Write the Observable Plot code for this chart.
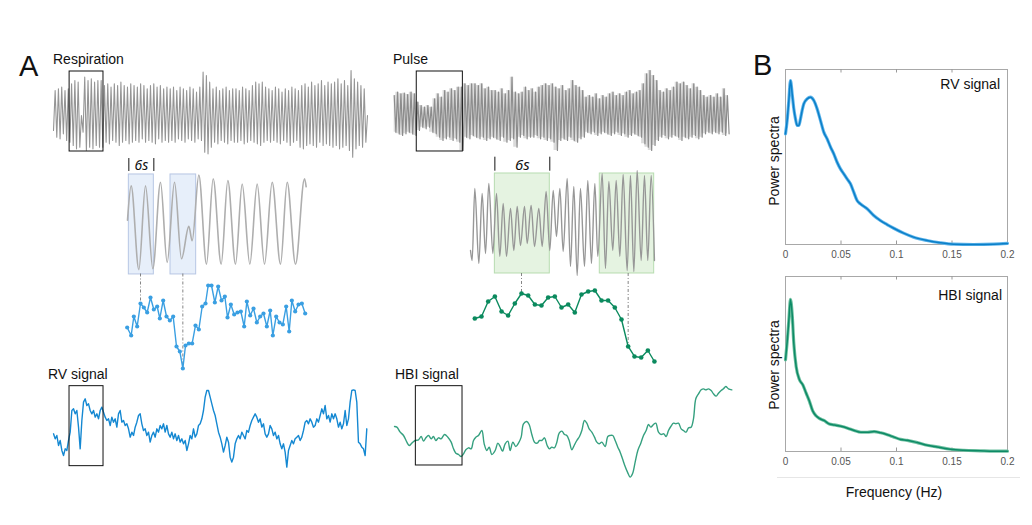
<!DOCTYPE html>
<html><head><meta charset="utf-8">
<script src="https://cdn.jsdelivr.net/npm/d3@7"></script>
<script src="https://cdn.jsdelivr.net/npm/@observablehq/plot@0.6"></script>
<style>
body{margin:0;background:#fff;}
#root{position:relative;width:1032px;height:525px;font-family:"Liberation Sans",Arial,Helvetica,sans-serif;color:#111;overflow:hidden;background:#fff;}
.lbl{position:absolute;line-height:1;white-space:nowrap;}
</style></head><body><div id="root"></div><script>
// ---------------- DATA ----------------
// Respiration raw trace: peak / trough of each breath
const respPeaks = [0.95,1.0,1.05,0.95,1.0,
 1.15,1.25,1.2,0.2,1.35,1.25,1.3,1.2,1.25,1.25,
 1.1,1.15,1.05,1.15,1.1,1.2,1.1,1.05,1.15,1.1,
 1.05,1.15,1.1,1.0,1.1,1.15,1.05,1.1,1.0,1.05,
 1.0,1.05,0.95,1.05,1.0,0.95,1.05,1.0,0.9,1.05,
 1.5,1.4,1.2,1.0,1.05,0.95,1.0,1.05,0.95,1.0,
 1.0,0.95,1.05,1.0,0.95,1.1,1.2,1.15,1.2,1.05,
 1.0,0.95,1.05,1.0,0.9,1.0,0.95,1.05,1.0,0.95,
 1.1,1.15,1.05,1.2,1.1,1.15,1.25,1.1,1.2,1.15,
 1.2,1.3,1.15,1.25,1.1,1.55,1.3,1.2,1.1,1.0];
const respTroughs = [-0.45,-0.5,-0.35,-0.55,-0.6,
 -0.7,-0.8,-0.75,-0.3,-0.85,-0.75,-0.8,-0.7,-0.75,-0.75,
 -0.6,-0.65,-0.55,-0.6,-0.7,-0.6,-0.55,-0.65,-0.6,-0.55,
 -0.6,-0.5,-0.6,-0.55,-0.6,-0.65,-0.5,-0.6,-0.55,-0.6,
 -0.55,-0.6,-0.5,-0.55,-0.6,-0.5,-0.55,-0.6,-0.5,-0.55,
 -0.9,-0.95,-0.75,-0.6,-0.65,-0.55,-0.6,-0.65,-0.55,-0.6,
 -0.6,-0.55,-0.65,-0.6,-0.55,-0.6,-0.65,-0.7,-0.6,-0.55,
 -0.6,-0.55,-0.6,-0.65,-0.55,-0.6,-0.7,-0.6,-0.55,-0.75,
 -0.8,-0.7,-0.65,-0.7,-0.75,-0.6,-0.7,-0.65,-0.7,-0.75,
 -0.7,-0.8,-0.75,-0.7,-0.85,-1.05,-0.8,-0.7,-0.75,-0.6];
const respStartEnd = [-0.25, 0.2];
const respRawWindow = [4.4, 14.7];

// Pulse raw trace: upper / lower excursion of each beat
const pulseUpper = [0.65,0.75,0.7,0.72,0.68,0.75,0.7,
 0.45,0.35,0.3,0.35,0.3,
 0.55,0.7,0.6,0.8,0.75,0.85,0.8,0.9,0.9,
 1.0,0.95,1.0,1.0,0.95,1.0,0.85,0.9,0.8,
 0.8,0.75,0.85,0.7,0.8,1.2,0.75,
 0.7,0.75,0.9,0.8,0.85,0.75,0.9,0.95,
 1.0,0.95,1.0,0.9,0.85,0.95,0.8,0.85,
 1.1,0.95,0.9,0.8,
 0.6,0.65,0.6,0.7,0.55,0.65,0.6,0.7,0.75,0.65,
 0.7,0.65,0.75,0.8,0.7,0.75,0.8,
 1.0,1.3,1.4,1.25,1.1,
 0.8,0.75,0.85,0.8,0.9,
 1.05,1.0,1.05,0.95,0.85,1.0,0.9,0.8,
 0.65,0.6,0.65,0.6,0.7,0.6,0.85,0.65];
const pulseLower = [-0.45,-0.5,-0.55,-0.5,-0.45,-0.5,-0.55,
 -0.4,-0.3,-0.35,-0.3,-0.45,
 -0.5,-0.6,-0.7,-0.65,-0.6,-0.7,-0.65,-0.75,-1.0,
 -0.6,-0.65,-0.55,-0.6,-0.65,-0.6,-0.7,-0.65,-0.6,
 -0.65,-0.7,-0.6,-0.75,-0.7,-0.65,-0.9,
 -0.6,-0.55,-0.65,-0.6,-0.6,-0.55,-0.65,-0.6,
 -0.7,-0.65,-0.75,-1.0,-0.7,-0.65,-0.7,-0.6,
 -0.7,-0.75,-0.65,-0.6,
 -0.45,-0.5,-0.45,-0.55,-0.5,-0.45,-0.5,-0.55,-0.5,-0.45,
 -0.55,-0.5,-0.6,-0.55,-0.5,-0.55,-0.6,
 -0.8,-0.9,-1.0,-0.85,-0.7,
 -0.6,-0.55,-0.65,-0.6,-0.55,
 -0.6,-0.7,-0.6,-0.65,-0.6,-0.55,-0.65,-0.6,
 -0.5,-0.45,-0.5,-0.45,-0.5,-0.45,-0.55,-0.5];
const pulseRawWindow = [6.7, 20.4];

// Zoomed respiration (extrema, time in s)
const respZoomT = [0,0.88,2.72,4.32,6.08,7.92,9.52,11.28,12.96,14.72,15.52,17.12,18.96,20.56,22.48,24.08,25.92,27.52,29.36,31.12,32.88,34.72,36.72,38.32,40.32,42.48,42.88];
const respZoomV = [0.56,0.94,0.01,0.94,0.02,0.98,0.09,0.98,0.13,0.49,0.33,1.06,0.07,1.02,0.07,1.0,0.07,0.96,0.07,0.96,0.07,0.98,0.07,0.98,0.07,1.02,0.93];
const respWindows = [[0.32,6.32],[10.32,16.48]];
// RV samples in the zoomed window
const rvSampleT = [-0.08,0.88,1.52,2.32,3.12,3.92,4.72,5.52,6.32,7.12,7.76,8.56,9.36,10.16,10.96,11.76,12.56,13.28,13.92,14.72,15.52,16.32,17.12,17.92,18.72,19.36,20.16,20.96,21.76,22.56,23.36,24.0,24.8,25.6,26.4,27.2,28.0,28.64,29.44,30.24,31.04,31.84,32.64,33.44,34.24,34.88,35.68,36.48,37.28,38.08,38.8,39.44,40.24,41.04,41.84,42.64];
const rvSampleV = [0.56,0.48,0.67,0.57,0.80,0.76,0.71,0.86,0.74,0.77,0.65,0.83,0.67,0.63,0.67,0.37,0.32,0.15,0.38,0.40,0.40,0.58,0.54,0.77,0.80,0.98,0.98,0.81,0.97,0.83,0.87,0.66,0.79,0.69,0.71,0.72,0.57,0.82,0.68,0.75,0.61,0.67,0.70,0.57,0.73,0.48,0.67,0.61,0.59,0.77,0.52,0.83,0.72,0.79,0.80,0.70];
const rvLinkIdx = [4, 17];

// Zoomed pulse (extrema, time in s)
const pulseZoomT = [0,0.18,0.47,0.91,1.27,1.64,2.0,2.44,2.84,3.2,3.57,3.93,4.37,4.73,5.1,5.46,5.9,6.19,6.62,6.99,7.46,7.83,8.26,8.66,9.03,9.39,9.76,10.12,10.56,10.92,11.28,11.65,12.01,12.45,12.81,13.21,13.58,13.9,14.38,14.74,15.11,15.54,15.91,16.31,16.67,17.11,17.47,17.84,18.2,18.64,19.0,19.36,19.73,20.09];
const pulseZoomV = [0.33,0.23,0.95,0.20,0.90,0.30,1.0,0.30,0.90,0.27,0.80,0.27,0.75,0.33,0.77,0.38,0.77,0.40,0.78,0.37,0.75,0.37,0.92,0.33,0.93,0.47,0.95,0.32,1.05,0.17,0.97,0.08,0.95,0.17,1.03,0.20,1.0,0.27,1.10,0.15,1.02,0.33,1.03,0.27,1.09,0.13,1.08,0.12,1.13,0.23,1.08,0.23,1.08,0.23];
const pulseWindows = [[2.66,8.66],[14.12,20.06]];
const hbiSampleT = [0.47,1.2,1.93,2.66,3.39,4.11,4.84,5.57,6.3,7.03,7.75,8.48,9.21,9.94,10.67,11.39,12.12,12.85,13.58,14.31,15.03,15.76,16.49,17.22,17.91,18.64,19.37,20.09];
const hbiSampleV = [0.65,0.67,0.82,0.87,0.72,0.68,0.80,0.90,0.88,0.79,0.78,0.86,0.87,0.76,0.79,0.71,0.89,0.92,0.93,0.83,0.83,0.76,0.64,0.37,0.27,0.26,0.33,0.22];
const hbiLinkIdx = [7, 23];

// RV signal (uniformly sampled)
const rvSignal = [0.8,0.65,0.75,0.45,0.6,0.3,0.15,0.35,0.3,0.6,0.85,1.5,1.55,1.4,1.5,1.0,0.35,1.2,1.75,1.85,
 1.65,1.7,1.5,1.4,1.5,1.3,1.4,1.25,1.5,1.6,1.45,1.3,1.2,1.25,1.05,1.3,1.15,1.25,1.0,1.4,
 1.5,1.15,1.2,1.05,1.1,0.95,0.7,0.85,0.75,1.0,1.15,1.35,1.4,1.1,0.9,0.95,0.75,0.85,0.55,0.75,
 0.85,0.7,0.95,0.85,1.05,0.95,1.1,0.85,1.05,0.8,0.7,0.85,0.65,0.8,0.6,0.75,0.55,0.65,0.5,0.6,
 0.3,0.5,0.75,0.65,0.95,0.7,0.8,1.05,1.1,1.25,1.5,1.9,2.1,2.1,1.9,1.7,1.5,1.35,1.1,0.85,
 0.7,0.5,0.25,0.45,0.7,0.55,0.1,-0.05,0.1,0.5,0.65,0.75,0.65,0.85,0.75,0.65,0.9,0.85,1.05,1.2,
 1.3,1.4,1.3,1.15,1.25,1.0,1.1,0.8,0.7,0.8,1.05,0.95,0.75,0.85,0.65,0.75,0.5,0.35,0.5,0.25,
 -0.2,0.3,0.45,0.6,0.5,0.65,0.7,0.75,0.6,0.7,0.9,1.15,1.2,1.1,1.25,1.15,1.0,1.05,1.25,1.15,
 1.35,1.55,1.4,1.65,1.25,1.35,1.15,1.4,1.25,1.4,1.25,1.0,1.15,0.95,1.1,1.5,1.05,1.25,1.75,2.1,
 2.12,2.1,1.75,0.55,0.5,0.4,0.35,0.15,0.95];
const rvWindow = [9.6, 30];

// HBI signal
const hbiTime = [28,35,45,55,65,72,80,90,100,108,115,122,130,138,145,152,160,168,178,188,
 198,205,212,220,228,235,242,250,258,265,272,280,290,297,305,312,320,330,338,345,
 352,360,368,375,383,392,400,408,415,425,432,440,448,456,463,470,478,486,493,500,
 508,515,522,530,538,545,552,560,567,575,583,590,598,605,612,620,628,635,642,650,
 660,668,675,683,690,698,705,712,720,727,735,742,750,758,767,775,783,790,797,805,
 812,820,828,836,843,850,857,865,872,880,888,895,903,910,918,925,932,940,948,955,
 962,970,978,985,993,1000,1008,1015,1022,1030,1040];
const hbiValue = [1.02,1.00,0.85,0.75,0.55,0.45,0.52,0.60,0.62,0.72,
 0.58,0.68,0.75,0.65,0.72,0.60,0.68,0.65,0.78,0.70,
 0.55,0.35,0.22,0.18,0.12,0.20,0.32,0.38,0.35,0.60,
 0.70,0.75,0.90,0.50,0.30,0.40,0.18,0.30,0.52,0.42,
 0.28,0.50,0.58,0.30,0.55,0.42,0.52,0.70,1.10,1.17,
 1.08,0.78,0.55,0.52,0.60,0.60,0.68,0.45,0.35,0.40,
 0.38,0.55,0.82,0.88,0.78,0.75,0.60,0.32,0.45,0.60,
 0.72,0.90,1.20,1.12,0.95,0.85,0.70,0.55,0.50,0.55,
 0.42,0.72,0.75,0.75,0.60,0.40,0.25,0.05,-0.18,-0.35,
 -0.50,-0.40,-0.05,0.30,0.52,0.75,0.90,1.08,1.00,1.08,
 1.12,0.85,0.78,0.80,0.72,0.90,1.02,1.12,1.10,1.12,
 0.95,0.90,0.85,0.98,1.00,1.25,1.85,2.00,2.12,2.15,
 2.12,2.15,2.10,2.00,1.93,2.02,2.10,2.15,2.22,2.15,2.12];
const hbiWindow = [92, 232];

// Power spectra (panel B)
const rvSpecFreq = [0,0.0015,0.003,0.0045,0.006,0.0075,0.009,0.0105,0.012,0.0135,0.015,0.0165,0.0195,0.0225,0.0255,0.0285,0.0315,0.0345,0.0375,0.0405,0.0435,0.0465,0.0495,0.0525,0.0555,0.0585,0.0615,0.0645,0.0675,0.0735,0.0795,0.0855,0.0915,0.0975,0.1064,0.1154,0.1274,0.1394,0.1514,0.1694,0.1874,0.2];
const rvSpecPower = [0.632,0.709,0.823,0.937,0.861,0.775,0.718,0.680,0.680,0.718,0.766,0.804,0.832,0.842,0.823,0.775,0.709,0.642,0.604,0.558,0.518,0.470,0.432,0.404,0.375,0.347,0.299,0.251,0.232,0.204,0.166,0.137,0.114,0.093,0.065,0.042,0.023,0.010,0.002,0.000,0.002,0.006];
const hbiSpecFreq = [0,0.0015,0.003,0.0045,0.006,0.0075,0.0096,0.0126,0.0155,0.0185,0.0215,0.0245,0.0275,0.0305,0.035,0.0395,0.044,0.05,0.056,0.0619,0.0679,0.0738,0.0798,0.0858,0.0918,0.0978,0.1037,0.1097,0.1187,0.1277,0.1366,0.1486,0.1605,0.1755,0.1874,0.2];
const hbiSpecPower = [0.524,0.627,0.749,0.869,0.785,0.616,0.485,0.410,0.382,0.335,0.288,0.232,0.204,0.189,0.176,0.157,0.152,0.144,0.133,0.120,0.110,0.110,0.114,0.107,0.096,0.082,0.069,0.064,0.051,0.036,0.026,0.013,0.007,0.004,0.002,0.002];
const freqTicks = [0,0.05,0.1,0.15,0.2];

// ---------------- RENDER ----------------
const root = document.getElementById("root");
const GRAY = "#959595", RV = "#1488d2", RVDOT = "#3a9fe2", HBI = "#35a07f", HBIDOT = "#0b8a5e";

function panel(pos, xd, yd, marks) {
  const svg = Plot.plot({
    width: pos.w, height: pos.h, margin: 0,
    x: {domain: xd, axis: null}, y: {domain: yd, axis: null},
    style: {background: "transparent", overflow: "visible"},
    marks
  });
  svg.style.position = "absolute"; svg.style.left = pos.l + "px"; svg.style.top = pos.t + "px";
  svg.style.maxWidth = "none";
  root.appendChild(svg);
}
function label(text, css) {
  const d = document.createElement("div"); d.className = "lbl"; d.textContent = text;
  Object.assign(d.style, css); root.appendChild(d);
}

// Raw respiration
const respRaw = [{k: -0.5, v: respStartEnd[0]}];
respPeaks.forEach((p, i) => { respRaw.push({k: i, v: p}); respRaw.push({k: i + 0.5, v: respTroughs[i]}); });
respRaw.push({k: 95, v: respStartEnd[1]});
panel({l: 53, t: 60, w: 314, h: 110}, [-0.5, 95], [-1.45, 1.85], [
  Plot.line(respRaw, {x: "k", y: "v", stroke: GRAY, strokeWidth: 1.1}),
  Plot.rect([respRawWindow], {x1: d => d[0], x2: d => d[1], y1: -0.88, y2: 1.52, fill: "none", stroke: "#111", strokeWidth: 1})
]);

// Raw pulse
const pulseRaw = [];
const pulseBand = [];
pulseUpper.forEach((p, i) => {
  pulseRaw.push({k: i, v: p}); pulseRaw.push({k: i + 0.5, v: pulseLower[i]});
  pulseBand.push({k: i, hi: p, lo: pulseLower[i]});
});
panel({l: 391.7, t: 60, w: 338.3, h: 110}, [-0.5, 100], [-1.6, 1.7], [
  Plot.areaY(pulseBand, {x: "k", y1: "lo", y2: "hi", fill: "#bdbdbd", fillOpacity: 0.55, curve: "step"}),
  Plot.line(pulseRaw, {x: "k", y: "v", stroke: "#8c8c8c", strokeWidth: 1.2}),
  Plot.rect([pulseRawWindow], {x1: d => d[0], x2: d => d[1], y1: -1.03, y2: 1.37, fill: "none", stroke: "#111", strokeWidth: 1})
]);

// Zoomed respiration
const respZoom = respZoomT.map((t, i) => ({t, v: respZoomV[i]}));
panel({l: 127, t: 153, w: 179.2, h: 126}, [0, 43], [-0.1, 1.3], [
  Plot.rect(respWindows, {x1: d => d[0], x2: d => d[1], y1: -0.044, y2: 1.067, fill: "#e7effa", stroke: "#b7c6e4", strokeWidth: 1}),
  Plot.line(respZoom, {x: "t", y: "v", curve: "monotone-x", stroke: "#aeaeae", strokeWidth: 1.6}),
  Plot.ruleX(respWindows[0], {y1: 1.1, y2: 1.244, stroke: "#111", strokeWidth: 1}),
  Plot.text(["6s"], {x: (respWindows[0][0] + respWindows[0][1]) / 2, y: 1.167, fontSize: 14, fontStyle: "italic", fill: "#111"})
]);
const rvSamples = rvSampleT.map((t, i) => ({t, v: rvSampleV[i]}));
panel({l: 127, t: 273.33, w: 179.2, h: 105}, [0, 43], [0.05, 1.1], [
  Plot.ruleX(rvLinkIdx.map(i => rvSamples[i]), {x: "t", y1: 1.095, y2: "v", stroke: "#666", strokeWidth: 0.8, strokeDasharray: "3,2,1,2"}),
  Plot.line(rvSamples, {x: "t", y: "v", stroke: RVDOT, strokeWidth: 1.4}),
  Plot.dot(rvSamples, {x: "t", y: "v", r: 2.1, fill: RVDOT, stroke: "none"})
]);

// Zoomed pulse
const pulseZoom = pulseZoomT.map((t, i) => ({t, v: pulseZoomV[i]}));
panel({l: 470, t: 153.33, w: 184.06, h: 130}, [0, 20.1], [0, 1.3], [
  Plot.rect(pulseWindows, {x1: d => d[0], x2: d => d[1], y1: 0.1, y2: 1.1, fill: "#e5f3e1", stroke: "#b7dcb0", strokeWidth: 1}),
  Plot.line(pulseZoom, {x: "t", y: "v", curve: "monotone-x", stroke: "#979797", strokeWidth: 1.4}),
  Plot.ruleX(pulseWindows[0], {y1: 1.123, y2: 1.263, stroke: "#111", strokeWidth: 1}),
  Plot.text(["6s"], {x: (pulseWindows[0][0] + pulseWindows[0][1]) / 2, y: 1.18, fontSize: 15, fontStyle: "italic", fill: "#111"})
]);
const hbiSamples = hbiSampleT.map((t, i) => ({t, v: hbiSampleV[i]}));
panel({l: 470, t: 273.33, w: 184.06, h: 100}, [0, 20.1], [0.1, 1.1], [
  Plot.ruleX(hbiLinkIdx.map(i => hbiSamples[i]), {x: "t", y1: 1.1, y2: "v", stroke: "#666", strokeWidth: 0.8, strokeDasharray: "3,2,1,2"}),
  Plot.line(hbiSamples, {x: "t", y: "v", stroke: HBIDOT, strokeWidth: 1.4}),
  Plot.dot(hbiSamples, {x: "t", y: "v", r: 2.3, fill: HBIDOT, stroke: "none"})
]);

// RV signal
panel({l: 53.33, t: 380, w: 313.33, h: 95}, [0, 188], [-0.45, 2.4], [
  Plot.line(rvSignal, {x: (d, i) => i, y: d => d, stroke: RV, strokeWidth: 1.4}),
  Plot.rect([rvWindow], {x1: d => d[0], x2: d => d[1], y1: -0.17, y2: 2.23, fill: "none", stroke: "#111", strokeWidth: 1})
]);
// HBI signal
const hbiSig = hbiTime.map((t, i) => ({t, v: hbiValue[i]}));
panel({l: 394.33, t: 380, w: 337.33, h: 105}, [28, 1040], [-0.75, 2.4], [
  Plot.line(hbiSig, {x: "t", y: "v", curve: "catmull-rom", stroke: HBI, strokeWidth: 1.4}),
  Plot.rect([hbiWindow], {x1: d => d[0], x2: d => d[1], y1: -0.15, y2: 2.23, fill: "none", stroke: "#111", strokeWidth: 1})
]);

// Panel B spectra
function spectrum(top, freq, power, light, dark) {
  const data = freq.map((f, i) => ({f, p: power[i]}));
  const svg = Plot.plot({
    width: 270, height: 215, marginLeft: 25, marginRight: 23, marginTop: 14, marginBottom: 26,
    x: {domain: [0, 0.2], ticks: freqTicks, tickFormat: d3.format("~g"), tickSize: 0, tickPadding: 6, label: null},
    y: {domain: [0, 1], axis: null},
    style: {background: "transparent", overflow: "visible", fontSize: "10px", color: "#555", fontFamily: "Liberation Sans, Arial, sans-serif"},
    marks: [
      Plot.frame({stroke: "#a8a8a8"}),
      Plot.ruleX(freqTicks.slice(1, -1), {y1: 0, y2: 0.02, stroke: "#999"}),
      Plot.ruleX(freqTicks.slice(1, -1), {y1: 0.98, y2: 1, stroke: "#999"}),
      Plot.line(data, {x: "f", y: "p", curve: "monotone-x", stroke: light, strokeWidth: 3.2}),
      Plot.line(data, {x: "f", y: "p", curve: "monotone-x", stroke: dark, strokeWidth: 1.5})
    ]
  });
  svg.style.position = "absolute"; svg.style.left = "760px"; svg.style.top = top + "px"; svg.style.maxWidth = "none";
  root.appendChild(svg);
}
spectrum(55, rvSpecFreq, rvSpecPower, "#5fb4ea", "#0a7fc8");
spectrum(262, hbiSpecFreq, hbiSpecPower, "#6cbf9f", "#0d8a66");

// separator under panel B
const sep = document.createElement("div");
Object.assign(sep.style, {position: "absolute", left: "777px", top: "477px", width: "243px", height: "1px", background: "#e6e6e6"});
root.appendChild(sep);

// Text labels
label("A", {left: "19px", top: "52px", fontSize: "29px"});
label("B", {left: "753px", top: "51px", fontSize: "29px"});
label("Respiration", {left: "53px", top: "51.5px", fontSize: "14px"});
label("Pulse", {left: "393px", top: "51.5px", fontSize: "14px"});
label("RV signal", {left: "48px", top: "366.5px", fontSize: "14px"});
label("HBI signal", {left: "395px", top: "366.5px", fontSize: "14px"});
label("RV signal", {right: "32px", top: "76.5px", fontSize: "14px"});
label("HBI signal", {right: "30px", top: "287.5px", fontSize: "14px"});
label("Power spectra", {left: "774px", top: "161px", fontSize: "14px", transform: "translate(-50%,-50%) rotate(-90deg)"});
label("Power spectra", {left: "774px", top: "365px", fontSize: "14px", transform: "translate(-50%,-50%) rotate(-90deg)"});
label("Frequency (Hz)", {left: "894px", top: "485px", fontSize: "14px", transform: "translateX(-50%)"});
</script></body></html>
